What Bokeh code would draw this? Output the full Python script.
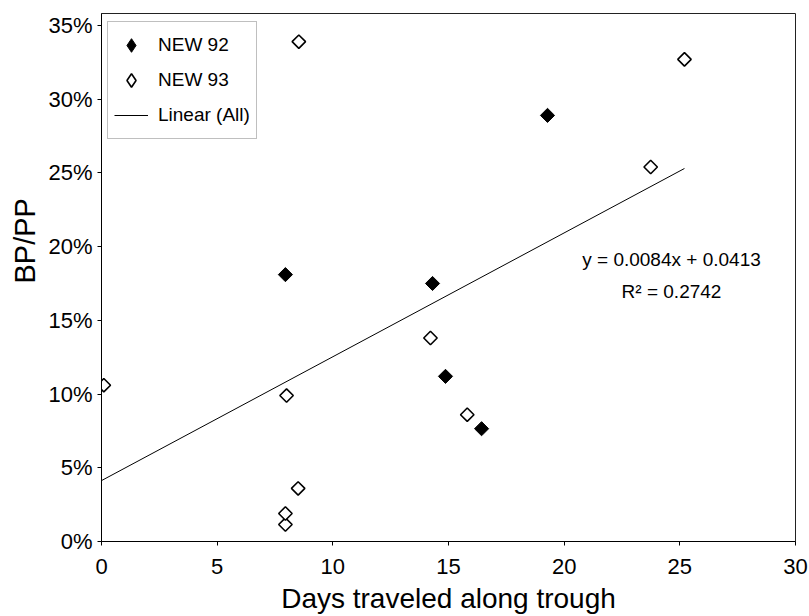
import numpy as np
from bokeh.plotting import figure
from bokeh.models import (ColumnDataSource, Legend, LegendItem, Label, Title,
                          FixedTicker, NumeralTickFormatter, Range1d)
from bokeh.embed import file_html
from bokeh.resources import INLINE

# Days traveled along trough vs. BP/PP ratio
new92_days = [7.95, 14.31, 14.87, 16.43, 19.28]
new92_ratio = [0.181, 0.175, 0.112, 0.0765, 0.289]

new93_days = [0.1, 7.95, 7.95, 8.0, 8.5, 8.53, 14.22, 15.81, 23.74, 25.2]
new93_ratio = [0.106, 0.0115, 0.019, 0.099, 0.036, 0.339, 0.138, 0.086, 0.254, 0.327]

# Linear fit over all points (as reported)
slope = 0.0084
intercept = 0.0413
r_squared = 0.2742

x_ticks = [0, 5, 10, 15, 20, 25, 30]
y_ticks = [0, 0.05, 0.10, 0.15, 0.20, 0.25, 0.30, 0.35]

FONT = "Liberation Sans"

p = figure(width=809, height=616, output_backend="svg", toolbar_location=None,
           x_range=Range1d(0, 30), y_range=Range1d(0, 0.3581),
           min_border_left=101, min_border_right=14,
           min_border_top=13, min_border_bottom=75)

p.background_fill_color = "white"
p.border_fill_color = "white"
p.outline_line_color = "#222222"
p.outline_line_width = 1
p.xgrid.visible = False
p.ygrid.visible = False

src92 = ColumnDataSource(dict(x=new92_days, y=new92_ratio))
src93 = ColumnDataSource(dict(x=new93_days, y=new93_ratio))

all_x = new92_days + new93_days
fit_x = [0, max(all_x)]
fit_y = [slope * v + intercept for v in fit_x]
fit_src = ColumnDataSource(dict(x=fit_x, y=fit_y))

r_fit = p.line("x", "y", source=fit_src, line_color="black", line_width=1)

# Legend swatches: the legend never rotates its glyphs, so these use the
# diamond marker. They sit small underneath the main markers below.
k92 = p.scatter("x", "y", source=src92, marker="diamond", size=4,
                fill_color="black", line_color="black", line_width=1)
k93 = p.scatter("x", "y", source=src93, marker="diamond", size=4,
                fill_color="white", line_color="black", line_width=1.6)

# diamonds drawn as squares turned by 45 degrees
r92 = p.scatter("x", "y", source=src92, marker="square", angle=np.pi / 4,
                size=10, fill_color="black", line_color="black", line_width=1)
r93 = p.scatter("x", "y", source=src93, marker="square", angle=np.pi / 4,
                size=9.5, fill_color="white", line_color="black", line_width=1.6)

# Axes
for ax in (p.xaxis[0], p.yaxis[0]):
    ax.axis_line_color = "black"
    ax.axis_line_width = 1
    ax.major_tick_line_color = "black"
    ax.major_tick_out = 4
    ax.major_tick_in = 0
    ax.minor_tick_line_color = None
    ax.major_label_text_font = FONT
    ax.major_label_text_font_size = "22px"
    ax.major_label_text_color = "black"
    ax.axis_label_text_font = FONT
    ax.axis_label_text_font_style = "normal"
    ax.axis_label_text_color = "black"

p.xaxis.ticker = FixedTicker(ticks=x_ticks)
p.yaxis.ticker = FixedTicker(ticks=y_ticks)
p.yaxis.formatter = NumeralTickFormatter(format="0%")

p.xaxis.axis_label = "Days traveled along trough"
p.xaxis.axis_label_text_font_size = "28px"
p.xaxis.major_label_standoff = 13
p.xaxis.axis_label_standoff = 6

p.yaxis.major_label_standoff = 5

# y-axis title, placed from the bottom of the frame upward
ytitle = Title(text="BP/PP", align="left", offset=258,
               text_font=FONT, text_font_size="29px",
               text_font_style="normal", text_color="black")
p.add_layout(ytitle, "left")

# Legend
legend = Legend(items=[
    LegendItem(label="NEW 92", renderers=[k92]),
    LegendItem(label="NEW 93", renderers=[k93]),
    LegendItem(label="Linear (All)", renderers=[r_fit]),
], location=(6, 402))
legend.label_text_font = FONT
legend.label_text_font_size = "19px"
legend.label_text_color = "black"
legend.glyph_width = 34
legend.glyph_height = 34
legend.label_height = 34
legend.label_standoff = 10
legend.spacing = 1
legend.padding = 6
legend.margin = 0
legend.border_line_color = "#808080"
legend.border_line_width = 1
legend.background_fill_color = "white"
legend.background_fill_alpha = 1
p.add_layout(legend)

# Regression annotation
eq = Label(x=24.64, y=0.1913, text=f"y = {slope:.4f}x + {intercept:.4f}",
           text_font=FONT, text_font_size="19px", text_color="black",
           text_align="center", text_baseline="middle")
r2 = Label(x=24.64, y=0.1696, text=f"R\u00b2 = {r_squared:.4f}",
           text_font=FONT, text_font_size="19px", text_color="black",
           text_align="center", text_baseline="middle")
p.add_layout(eq)
p.add_layout(r2)

open("out.html", "w").write(file_html(p, INLINE))
